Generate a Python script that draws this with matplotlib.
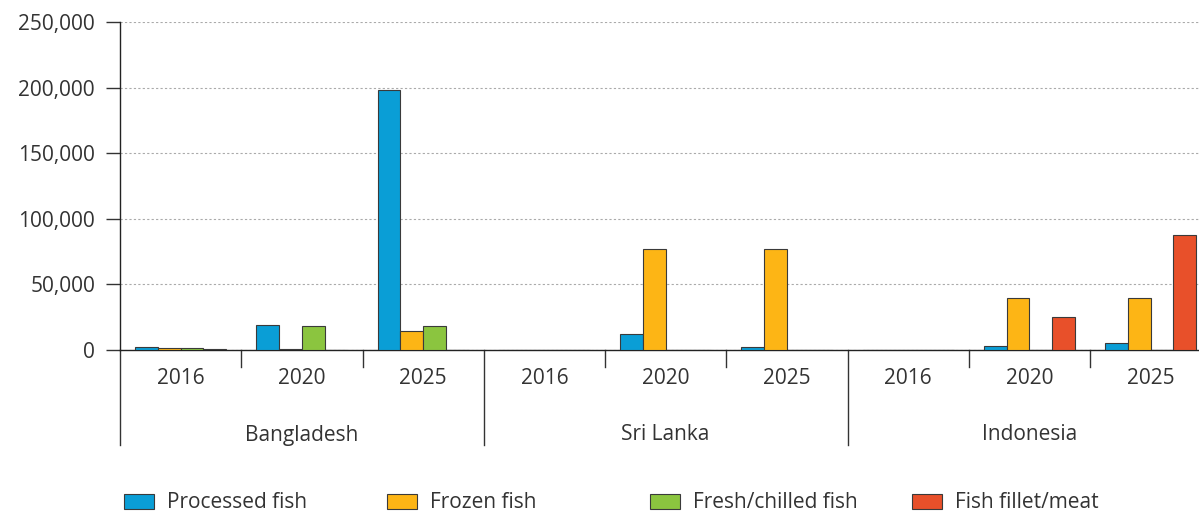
import matplotlib
matplotlib.use("Agg")
import matplotlib.pyplot as plt
from matplotlib.patches import Patch
from matplotlib.transforms import blended_transform_factory
import numpy as np

plt.rcParams['font.family'] = ['Open Sans', 'DejaVu Sans']

countries = ["Bangladesh", "Sri Lanka", "Indonesia"]
years = ["2016", "2020", "2025"]
series = ["Processed fish", "Frozen fish", "Fresh/chilled fish", "Fish fillet/meat"]
colors = ["#0A9ED6", "#FDB515", "#8BC53F", "#E8502A"]

processed = [2500, 19000, 198000, 0, 12200, 2300, 0, 3300, 5500]
frozen = [1300, 1000, 14500, 0, 77000, 77000, 0, 39300, 39300]
fresh = [1200, 18000, 18000, 0, 0, 0, 0, 0, 0]
fillet = [600, 0, 0, 0, 0, 0, 0, 25000, 87800]
values = [processed, frozen, fresh, fillet]

yticks = [0, 50000, 100000, 150000, 200000, 250000]

W, H = 1199, 515
fig = plt.figure(figsize=(W / 100, H / 100), dpi=100)
gw = 121.25
n = len(countries) * len(years)
ax = fig.add_axes([120 / W, 1 - 350 / H, n * gw / W, 328 / H])

txt = "#333333"
x = np.arange(n) + 0.5
bw = 0.188
for k, (vals, col) in enumerate(zip(values, colors)):
    ax.bar(x + (k - 1.5) * bw, vals, width=bw, color=col, edgecolor="#3a3a3a",
           linewidth=0.8, zorder=3)

ax.set_xlim(0, n)
ax.set_ylim(0, 250000)
ax.set_yticks(yticks)
ax.set_yticklabels([f"{v:,}" for v in yticks], color=txt, fontsize=15)
ax.tick_params(axis="y", length=10, width=1, color="#333333", direction="out", pad=8)
ax.yaxis.grid(True, linestyle=(0, (2, 2)), color="#aaaaaa", linewidth=0.8, zorder=0)
ax.set_xticks([])
for s in ["top", "right"]:
    ax.spines[s].set_visible(False)
ax.spines["left"].set_color("#222222")
ax.spines["bottom"].set_color("#222222")
ax.spines["left"].set_linewidth(1)
ax.spines["bottom"].set_linewidth(1)

tr = blended_transform_factory(ax.transData, ax.transAxes)
short = -17 / 328
long_ = -95 / 328
for i in range(n + 1):
    y1 = long_ if i % 3 == 0 else short
    ax.plot([i, i], [0, y1], transform=tr, color="#333333", lw=1, clip_on=False)
for i in range(n):
    ax.text(i + 0.5, -28 / 328, years[i % 3], transform=tr, ha="center", va="center",
            fontsize=15, color=txt)
for c, name in enumerate(countries):
    ax.text(c * 3 + 1.5, -85 / 328, name, transform=tr, ha="center", va="center",
            fontsize=15, color=txt)

legx = [124, 387, 650, 912]
for lx, lab, col in zip(legx, series, colors):
    fig.legend(handles=[Patch(facecolor=col, edgecolor="#3a3a3a", linewidth=0.8)],
               labels=[lab], loc="center left", bbox_to_anchor=(lx / W, 1 - 503 / H),
               frameon=False, fontsize=15, handlelength=1.45, handleheight=0.7,
               handletextpad=0.62, borderaxespad=0, borderpad=0, labelcolor=txt)

fig.savefig("out.png", dpi=100)
